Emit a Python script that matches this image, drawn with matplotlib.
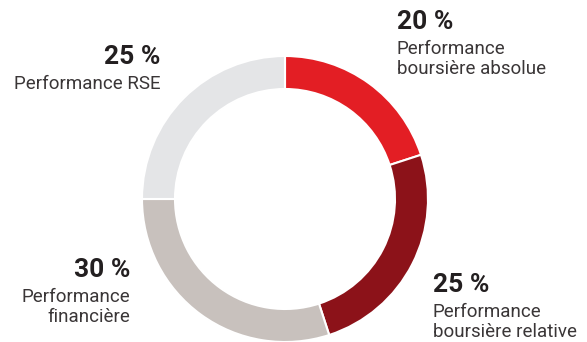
import matplotlib.pyplot as plt

shares = [20, 25, 30, 25]
pct_labels = ["20 %", "25 %", "30 %", "25 %"]
names = [
    ["Performance", "boursière absolue"],
    ["Performance", "boursière relative"],
    ["Performance", "financière"],
    ["Performance RSE"],
]
colors = ["#e31e24", "#8c1219", "#c8c1bd", "#e4e5e7"]

W, H = 587, 342
fig = plt.figure(figsize=(W / 100, H / 100), dpi=100)
ax = fig.add_axes([0, 0, 1, 1])

cx, cy, r = 285, H - 199, 143
ax.pie(shares, colors=colors, startangle=90, counterclock=False,
       center=(cx, cy), radius=r, frame=True,
       wedgeprops=dict(width=33, edgecolor="white", linewidth=1.5))
ax.set_xlim(0, W)
ax.set_ylim(0, H)
ax.set_aspect("equal")
ax.axis("off")

txt = "#231f20"
font = "Roboto"
# (x, baseline of percentage, alignment) for each label block
spots = [(397, 29, "left"), (433, 292, "left"), (130, 277, "right"), (160, 64, "right")]
for (x, y, ha), pct, lines in zip(spots, pct_labels, names):
    ax.text(x, H - y, pct, ha=ha, va="baseline", fontsize=19,
            fontweight="bold", color=txt, family=font)
    for i, line in enumerate(lines):
        ax.text(x, H - (y + 25 + 20 * i), line, ha=ha, va="baseline",
                fontsize=13.5, fontweight="normal", color="#3a3637", family=font)

fig.savefig("out.png", dpi=100)
